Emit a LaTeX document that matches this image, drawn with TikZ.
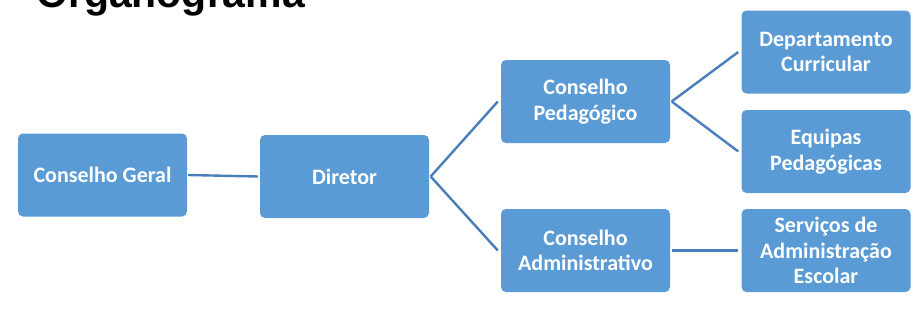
\documentclass[tikz,border=0pt]{standalone}
\usepackage{fontspec}
\setmainfont{Carlito}
\newfontfamily\titlefont{Liberation Sans}
\definecolor{boxblue}{HTML}{5B9BD5}
\definecolor{lineblue}{HTML}{4A7EBB}
\begin{document}
\begin{tikzpicture}[x=1pt,y=-1pt,
  orgbox/.style={fill=boxblue, rounded corners=5pt, minimum width=169pt, minimum height=83pt,
    text=white, font=\fontsize{22}{25.5}\selectfont\bfseries, align=center, inner sep=0pt},
  conn/.style={draw=lineblue, line width=2.4pt}]
\clip (0,0) rectangle (913,324);
\useasboundingbox (0,0) rectangle (913,324);
\node[anchor=base west, inner sep=0pt, font=\titlefont\fontsize{41}{41}\selectfont\bfseries] (title) at (36,8) {Organograma};
\node[orgbox] (cg) at (102.5,175) {Conselho Geral};
\node[orgbox] (dir) at (344.5,176.5) {Diretor};
\node[orgbox] (cp) at (585.5,101.5) {Conselho\\Pedagógico};
\node[orgbox] (ca) at (585.5,250.5) {Conselho\\Administrativo};
\node[orgbox] (dc) at (826,52) {Departamento\\Curricular};
\node[orgbox] (ep) at (826,151.5) {Equipas\\Pedagógicas};
\node[orgbox] (sa) at (826,250.5) {Serviços de\\Administração\\Escolar};
\draw[conn] ([xshift=1pt]cg.east) -- ([xshift=-2pt]dir.west);
\draw[conn] ([xshift=1.5pt]dir.east) -- ([xshift=-3pt]cp.west);
\draw[conn] ([xshift=1.5pt]dir.east) -- ([xshift=-3pt]ca.west);
\draw[conn] ([xshift=1.5pt]cp.east) -- ([xshift=-3pt]dc.west);
\draw[conn] ([xshift=1.5pt]cp.east) -- ([xshift=-3pt]ep.west);
\draw[conn] ([xshift=1.5pt]ca.east) -- ([xshift=-3pt]sa.west);
\end{tikzpicture}
\end{document}
